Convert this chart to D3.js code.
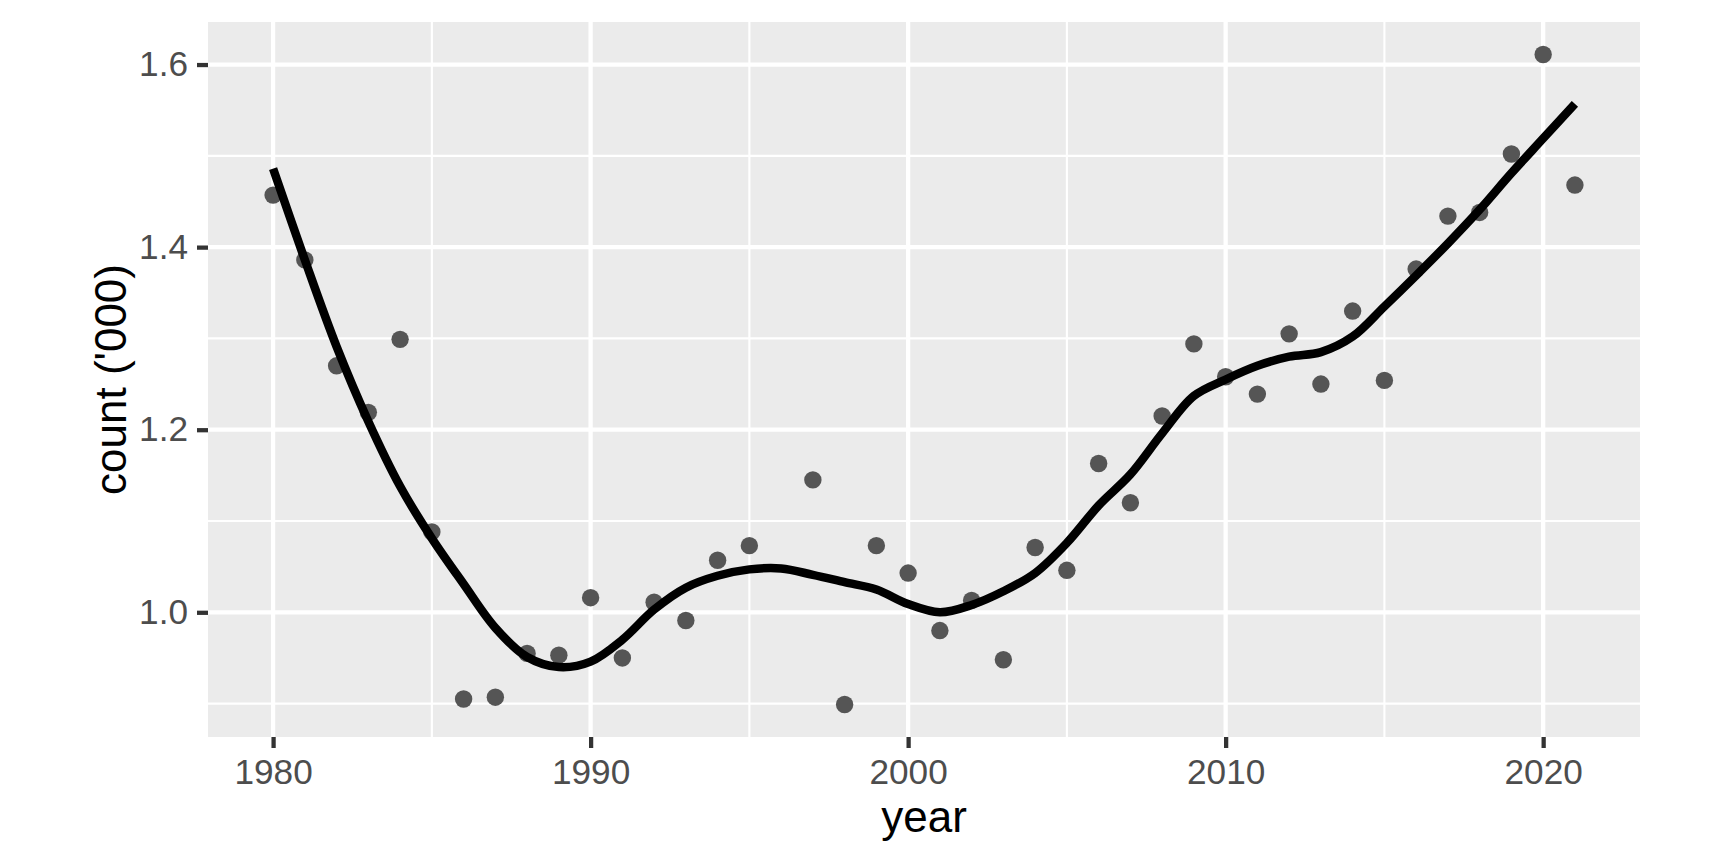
<!DOCTYPE html>
<html>
<head>
<meta charset="utf-8">
<script src="https://cdn.jsdelivr.net/npm/d3@7"></script>
<style>
  body { margin: 0; background: #fff; }
  text { font-family: "Liberation Sans", Arial, sans-serif; }
</style>
</head>
<body>
<script>
var w = 1728;
var h = 864;

// observed yearly counts (thousands); 1996 has no point
var years = [1980, 1981, 1982, 1983, 1984, 1985, 1986, 1987, 1988, 1989,
             1990, 1991, 1992, 1993, 1994, 1995, 1997, 1998, 1999,
             2000, 2001, 2002, 2003, 2004, 2005, 2006, 2007, 2008, 2009,
             2010, 2011, 2012, 2013, 2014, 2015, 2016, 2017, 2018, 2019,
             2020, 2021];
var counts = [1.457, 1.386, 1.270, 1.219, 1.299, 1.088, 0.905, 0.907, 0.955, 0.953,
              1.016, 0.950, 1.011, 0.991, 1.057, 1.073, 1.145, 0.899, 1.073,
              1.043, 0.980, 1.013, 0.948, 1.071, 1.046, 1.163, 1.120, 1.215, 1.294,
              1.258, 1.239, 1.305, 1.250, 1.330, 1.254, 1.376, 1.434, 1.438, 1.502,
              1.611, 1.468];

// smoothed trend at each year
var smoothYears = d3.range(1980, 2022);
var smoothValues = [1.486, 1.386, 1.291, 1.209, 1.138, 1.081, 1.031, 0.983, 0.951, 0.940,
                    0.946, 0.970, 1.003, 1.027, 1.040, 1.047, 1.048, 1.041, 1.033, 1.025,
                    1.009, 1.000, 1.008, 1.023, 1.043, 1.076, 1.117, 1.151, 1.196, 1.237,
                    1.255, 1.270, 1.280, 1.285, 1.302, 1.335, 1.369, 1.404, 1.441, 1.481,
                    1.519, 1.557];

var xMajor = [1980, 1990, 2000, 2010, 2020];
var xMinor = [1985, 1995, 2005, 2015];
var yMajor = [1.0, 1.2, 1.4, 1.6];
var yMinor = [0.9, 1.1, 1.3, 1.5];

var panel = { left: 208, right: 1640, top: 22, bottom: 737 };

function expand(ext) {
	var pad = (ext[1] - ext[0]) * 0.05;
	return [ext[0] - pad, ext[1] + pad];
}

var xScale = d3.scaleLinear()
	.domain(expand(d3.extent(years)))
	.range([panel.left, panel.right]);

var yScale = d3.scaleLinear()
	.domain(expand(d3.extent(counts.concat(smoothValues))))
	.range([panel.bottom, panel.top]);

var svg = d3.select('body')
	.append('svg')
	.attr('width', w)
	.attr('height', h);

svg.append('rect')
	.attr('x', panel.left)
	.attr('y', panel.top)
	.attr('width', panel.right - panel.left)
	.attr('height', panel.bottom - panel.top)
	.attr('fill', '#EBEBEB');

var grid = svg.append('g');

function vLines(vals, width) {
	grid.selectAll(null)
		.data(vals)
		.enter()
		.append('line')
		.attr('x1', function(d) { return xScale(d); })
		.attr('x2', function(d) { return xScale(d); })
		.attr('y1', panel.top)
		.attr('y2', panel.bottom)
		.attr('stroke', '#fff')
		.attr('stroke-width', width);
}

function hLines(vals, width) {
	grid.selectAll(null)
		.data(vals)
		.enter()
		.append('line')
		.attr('x1', panel.left)
		.attr('x2', panel.right)
		.attr('y1', function(d) { return yScale(d); })
		.attr('y2', function(d) { return yScale(d); })
		.attr('stroke', '#fff')
		.attr('stroke-width', width);
}

vLines(xMinor, 2.13);
hLines(yMinor, 2.13);
vLines(xMajor, 4.27);
hLines(yMajor, 4.27);

// points
svg.append('g')
	.selectAll('circle')
	.data(years)
	.enter()
	.append('circle')
	.attr('cx', function(d) { return xScale(d); })
	.attr('cy', function(d, i) { return yScale(counts[i]); })
	.attr('r', 8.7)
	.attr('fill', '#555555');

// smooth line
var line = d3.line()
	.x(function(d) { return xScale(d); })
	.y(function(d, i) { return yScale(smoothValues[i]); })
	.curve(d3.curveCatmullRom);

svg.append('path')
	.datum(smoothYears)
	.attr('d', line)
	.attr('fill', 'none')
	.attr('stroke', '#000')
	.attr('stroke-width', 8.5)
	.attr('stroke-linecap', 'butt');

// axes
var xAxis = d3.axisBottom(xScale)
	.tickValues(xMajor)
	.tickFormat(d3.format('d'))
	.tickSize(11)
	.tickPadding(9);

var yAxis = d3.axisLeft(yScale)
	.tickValues(yMajor)
	.tickFormat(d3.format('.1f'))
	.tickSize(11)
	.tickPadding(9);

var gx = svg.append('g')
	.attr('transform', 'translate(0,' + panel.bottom + ')')
	.call(xAxis);

var gy = svg.append('g')
	.attr('transform', 'translate(' + panel.left + ',0)')
	.call(yAxis);

[gx, gy].forEach(function(g) {
	g.select('.domain').remove();
	g.selectAll('.tick line')
		.attr('stroke', '#333333')
		.attr('stroke-width', 4.27);
	g.selectAll('.tick text')
		.attr('fill', '#4D4D4D')
		.style('font-size', '35.2px');
});

gx.selectAll('.tick text').attr('dy', '0.76em');

svg.append('text')
	.attr('x', (panel.left + panel.right) / 2)
	.attr('y', 832)
	.attr('text-anchor', 'middle')
	.attr('fill', '#000')
	.style('font-size', '44px')
	.text('year');

svg.append('text')
	.attr('transform', 'translate(126,' + ((panel.top + panel.bottom) / 2) + ') rotate(-90)')
	.attr('text-anchor', 'middle')
	.attr('fill', '#000')
	.style('font-size', '44px')
	.text("count ('000)");
</script>
</body>
</html>
